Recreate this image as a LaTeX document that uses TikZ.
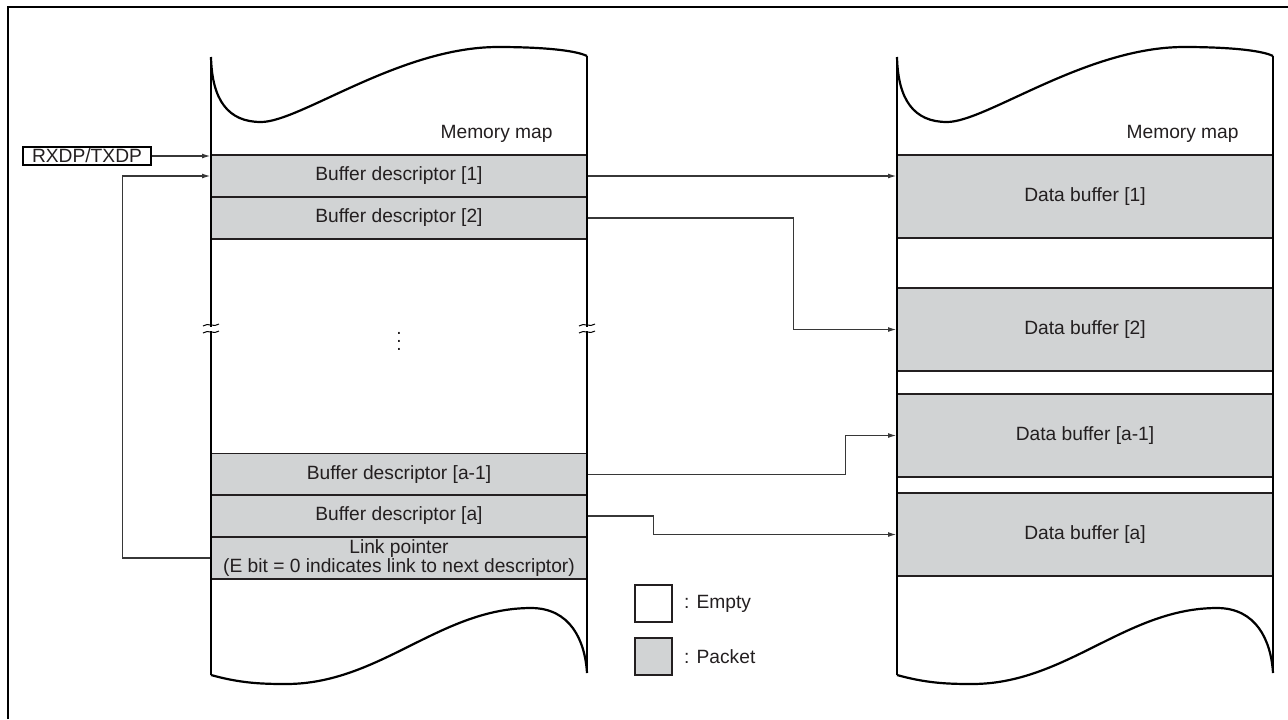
\documentclass[tikz,border=0pt]{standalone}
\usepackage{fontspec}
\setmainfont{Liberation Sans}
\usepackage{tikz}
\usetikzlibrary{arrows.meta,positioning,calc}
\definecolor{mmedge}{RGB}{35,31,32}
\definecolor{mmpkt}{RGB}{209,211,212}
\definecolor{mmwire}{RGB}{55,55,55}
\newcommand{\mmfont}{\fontsize{9.6}{10}\selectfont}
\newcommand{\linkfont}{\fontsize{9.6}{8.5}\selectfont}
\tikzset{
  mmrow/.style={
    draw=mmedge, line width=0.8pt, fill=mmpkt, text=mmedge,
    minimum width=188pt, inner sep=0pt, align=center, font=\mmfont
  },
  desc/.style={mmrow, minimum height=21pt},
  dbuf/.style={mmrow, minimum height=41.5pt},
  col/.style={draw=black, line width=1.25pt},
  rim/.style={draw=black, line width=1.1pt},
  brk/.style={draw=black, line width=0.5pt},
  arr/.style={-{Latex[length=4pt,width=2.4pt]}, draw=mmwire, line width=0.55pt},
  ptr/.style={
    draw=black, line width=1pt, inner sep=0.6pt, text=mmedge,
    minimum width=64pt, minimum height=9pt, font=\mmfont
  },
  legbox/.style={draw=mmedge, line width=0.8pt, minimum size=18.5pt, inner sep=0pt},
  anno/.style={font=\mmfont, text=mmedge, inner sep=0pt}
}
\begin{document}
\begin{tikzpicture}[x=0.5pt,y=-0.5pt]
  \useasboundingbox (0,0) rectangle (1288,719);
  % outer frame (top and left only)
  \draw[line width=1pt] (8,719) -- (8,7) -- (1288,7);

  % descriptor rows
  \node[desc] (bd1) at (399,176) {Buffer descriptor [1]};
  \node[desc] (bd2) at (399,218) {Buffer descriptor [2]};
  \node[desc] (bda1) at (399,474.5) {Buffer descriptor [a-1]};
  \node[desc] (bda) at (399,516) {Buffer descriptor [a]};
  \node[desc, font=\linkfont] (link) at (399,558)
    {Link pointer\\(E bit = 0 indicates link to next descriptor)};

  % data buffer rows
  \node[dbuf] (db1) at (1085,196.5) {Data buffer [1]};
  \node[dbuf] (db2) at (1085,329.5) {Data buffer [2]};
  \node[dbuf] (dba1) at (1085,435.5) {Data buffer [a-1]};
  \node[dbuf] (dba) at (1085,534.5) {Data buffer [a]};

  % memory map outlines
  \foreach \dx in {0,343}{
    \begin{scope}[xshift=\dx pt]
      \draw[col] (211,57) -- (211,675);
      \draw[col] (587,56) -- (587,673);
      \draw[rim] (211,57) .. controls (212,100) and (228,122) .. (261,122)
        .. controls (300,122) and (400,47) .. (498,47)
        .. controls (540,47) and (575,50) .. (587,56);
      \draw[rim] (211,675) .. controls (240,683) and (260,684) .. (286,684)
        .. controls (380,684) and (440,608) .. (531,608)
        .. controls (570,608) and (585,640) .. (587,673);
    \end{scope}
  }

  % break marks on the descriptor area
  \foreach \bx in {211,587}{
    \fill[white] (\bx-3,327) rectangle (\bx+3,331);
    \draw[brk] (\bx-8,326) .. controls (\bx-3,322) and (\bx+3,328) .. (\bx+8,324);
    \draw[brk] (\bx-8,333) .. controls (\bx-3,329) and (\bx+3,335) .. (\bx+8,331);
  }
  \node[anno] (gap) at (399,335) {$\vdots$};

  \node[anno, anchor=east] (mmapl) at (553,134) {Memory map};
  \node[anno, anchor=east] (mmapr) at (1239,134) {Memory map};

  % pointer register
  \node[ptr] (rxdp) at (87,156) {RXDP/TXDP};
  \draw[arr] (rxdp.east) -- (rxdp.east -| bd1.west);
  \draw[arr] (link.west) -- ++(-88,0) |- (bd1.west);

  % descriptor -> buffer
  \draw[arr] (bd1.east) -- (bd1.east -| db1.west);
  \draw[arr] (bd2.east) -- ++(206,0) |- (db2.west);
  \draw[arr] (bda1.east) -- ++(258,0) |- (dba1.west);
  \draw[arr] (bda.east) -- ++(66,0) |- (dba.west);

  % legend
  \node[legbox, fill=white] (lgempty) at (653.5,603.5) {};
  \node[anno, right=5.5pt of lgempty] (lgemptytx) {: Empty};
  \node[legbox, fill=mmpkt] (lgpkt) at (653.5,656.5) {};
  \node[anno, right=5.5pt of lgpkt] (lgpkttx) {: Packet};
\end{tikzpicture}
\end{document}
